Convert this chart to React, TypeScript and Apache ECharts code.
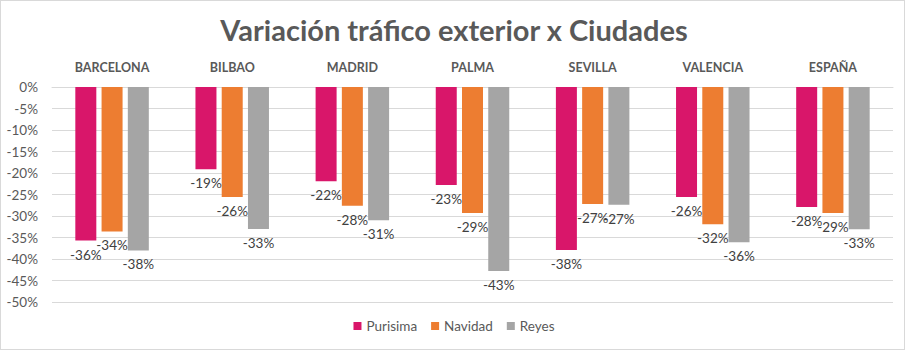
import React, { useEffect, useRef } from "react";
import * as echarts from "echarts";

const categories = ["BARCELONA", "BILBAO", "MADRID", "PALMA", "SEVILLA", "VALENCIA", "ESPAÑA"];
const purisima = [-35.7, -19.1, -21.9, -22.8, -37.9, -25.6, -27.9];
const navidad = [-33.6, -25.6, -27.6, -29.3, -27.2, -31.9, -29.3];
const reyes = [-38.0, -33.0, -31.0, -42.8, -27.4, -36.1, -33.1];
const seriesNames = ["Purisima", "Navidad", "Reyes"];
const colors = ["#D9166A", "#ED7D31", "#A5A5A5"];

const FONT = "Lato, 'Open Sans', sans-serif";

export default function App() {
  const ref = useRef<HTMLDivElement>(null);
  useEffect(() => {
    document.body.style.margin = "0";
    const chart = echarts.init(ref.current!, null, { renderer: "svg" });
    const mk = (name: string, data: number[], color: string) => ({
      name,
      type: "bar",
      data,
      barWidth: 21,
      barGap: "25%",
      itemStyle: { color },
      label: {
        show: true,
        position: "bottom",
        distance: 7,
        color: "#404040",
        fontSize: 13.5,
        fontFamily: FONT,
        formatter: (p: any) => `${Math.round(p.value)}%`,
      },
    });
    chart.setOption({
      animation: false,
      textStyle: { fontFamily: FONT },
      title: {
        text: "Variación tráfico exterior x Ciudades",
        left: "center",
        top: 10,
        textStyle: { fontSize: 29, fontWeight: "bold", color: "#595959", fontFamily: FONT },
      },
      legend: {
        bottom: 13,
        left: "center",
        itemWidth: 8,
        itemHeight: 8,
        itemGap: 14,
        icon: "rect",
        textStyle: { fontSize: 13.5, color: "#595959", fontFamily: FONT },
        data: seriesNames,
      },
      grid: { left: 52, right: 15, top: 87, bottom: 49, containLabel: false },
      xAxis: {
        type: "category",
        position: "top",
        data: categories,
        axisLine: { show: true, lineStyle: { color: "#D9D9D9" } },
        axisTick: { show: false },
        axisLabel: { fontSize: 12.5, fontWeight: "bold", color: "#595959", margin: 13, fontFamily: FONT },
      },
      yAxis: {
        type: "value",
        min: -50,
        max: 0,
        interval: 5,
        axisLine: { show: false },
        axisTick: { show: false },
        splitLine: { lineStyle: { color: "#D9D9D9" } },
        axisLabel: { formatter: (v: number) => `${v}%`, fontSize: 13.5, color: "#595959", margin: 14, fontFamily: FONT },
      },
      series: [
        mk(seriesNames[0], purisima, colors[0]),
        mk(seriesNames[1], navidad, colors[1]),
        mk(seriesNames[2], reyes, colors[2]),
      ],
    });
    return () => chart.dispose();
  }, []);
  return (
    <div style={{ position: "relative", width: 908, height: 351 }}>
      <div ref={ref} style={{ width: 908, height: 351 }} />
      <div
        style={{
          position: "absolute",
          left: 0,
          top: 0,
          width: 903,
          height: 348,
          border: "1px solid #D9D9D9",
          pointerEvents: "none",
        }}
      />
    </div>
  );
}
